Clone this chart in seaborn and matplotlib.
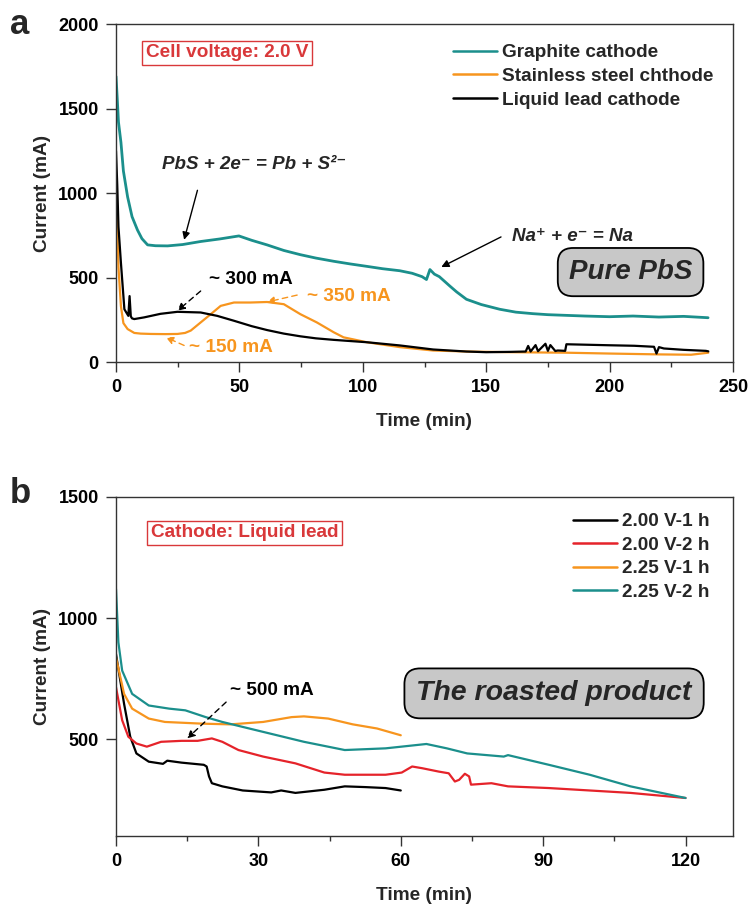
import numpy as np
import pandas as pd
import matplotlib
matplotlib.use("Agg")
import matplotlib.pyplot as plt
import seaborn as sns

# ---------------- data: panel a (Pure PbS, 2.0 V) ----------------
t_graphite = [0, 0.5, 1.0, 2.0, 3.0, 4.7, 6.5, 8.7, 10.5, 12.8, 16, 20.9, 27, 34.3, 42, 49.8, 55, 61.2,
              68, 74.7, 81, 88.2, 95, 101.6, 108, 115, 120, 124, 125.8, 127.2, 129, 131, 135.3, 138,
              142, 148, 155.5, 162, 168.9, 175, 182.4, 190, 200, 209.5, 220, 230, 239.9]
i_graphite = [1690, 1560, 1420, 1300, 1130, 977, 860, 781, 730, 693, 688, 687, 695, 713, 728, 746, 720, 693,
              660, 635, 615, 596, 580, 566, 552, 540, 525, 505, 488, 547, 520, 505, 449, 415,
              371, 340, 312, 295, 286, 280, 276, 272, 268, 272, 266, 270, 262]

t_steel = [0, 0.5, 1.0, 2.0, 3.0, 4.7, 7.4, 10, 14.1, 20, 24.9, 28, 30.3, 34.3, 38.4, 42.4, 47.8, 54.5,
           61.2, 68, 74.7, 81.4, 88.2, 92.2, 101.6, 115, 128.5, 142, 160, 182.4, 200, 220, 233, 240]
i_steel = [1000, 800, 560, 330, 230, 195, 172, 168, 166, 165, 166, 172, 186, 234, 283, 332, 352, 352,
           355, 342, 283, 234, 176, 146, 117, 88, 68, 62, 58, 55, 50, 45, 43, 55]

t_lead = [0, 0.5, 1.0, 2.0, 3.4, 5.0, 5.5, 6.0, 6.5, 7.4, 11.4, 18, 24.9, 34.3, 41, 47.8, 55, 61.2, 68,
          74.7, 81, 88.2, 101.6, 115, 128.5, 142, 150, 160, 166, 167, 168, 170, 171, 174, 175, 176, 178,
          179, 182, 182.5, 200, 210, 218, 219, 220, 222, 230, 239, 240]
i_lead = [1250, 1050, 800, 586, 312, 273, 390, 270, 258, 254, 264, 285, 297, 293, 273, 244, 212, 189, 168,
          152, 140, 131, 117, 98, 74, 62, 58, 60, 62, 95, 62, 100, 64, 108, 66, 100, 65,
          68, 66, 105, 99, 96, 90, 50, 88, 80, 72, 66, 63]

# ---------------- data: panel b (roasted product, liquid lead cathode) ----------------
t_b1 = [0, 1.7, 3.0, 4.3, 6.9, 9.9, 10.8, 13.8, 18.5, 19.1, 19.6, 20.2, 22.4, 26.7, 32.7, 34.8, 37.8,
        43.9, 48.2, 52.5, 56.8, 60]
i_b1 = [851, 646, 510, 441, 407, 398, 411, 403, 394, 387, 346, 318, 305, 288, 280, 288, 278,
        291, 305, 302, 298, 288]

t_b2 = [0, 1.3, 2.6, 4.3, 6.5, 9.5, 13.8, 17.2, 20.2, 22.4, 25.8, 31, 37.8, 43.9, 48.2, 56.8, 60.2,
        62.4, 64.5, 68, 70.1, 71.4, 72.3, 73.5, 74.4, 74.8, 79.1, 82.6, 91.2, 99.8, 108.4, 120]
i_b2 = [714, 578, 510, 482, 469, 489, 493, 493, 503, 489, 455, 428, 400, 362, 353, 353, 362,
        387, 380, 366, 359, 325, 332, 357, 346, 312, 318, 305, 298, 288, 278, 257]

t_b3 = [0, 1.7, 3.4, 6.9, 10.3, 18.1, 24.1, 31, 37, 39.6, 44.7, 49.9, 55, 60]
i_b3 = [837, 687, 626, 585, 571, 564, 561, 571, 591, 594, 585, 561, 544, 516]

t_b4 = [0, 0.5, 1.3, 3.4, 6.9, 11.2, 14.6, 18.9, 22.4, 31, 39.6, 48.2, 56.8, 65.4, 69.7, 74, 81.7,
        82.6, 91.2, 99.8, 108.4, 120]
i_b4 = [1120, 900, 783, 687, 639, 626, 619, 591, 571, 530, 489, 455, 462, 480, 462, 441, 428,
        434, 394, 353, 305, 257]

labels_a = ["Graphite cathode", "Stainless steel chthode", "Liquid lead cathode"]
labels_b = ["2.00 V-1 h", "2.00 V-2 h", "2.25 V-1 h", "2.25 V-2 h"]

TEAL = "#1b8f8c"
ORANGE = "#f7951e"
RED = "#e5232a"
BLACK = "#000000"
BOXRED = "#d9383a"

sns.set_theme(style="ticks")
plt.rcParams["font.family"] = ["Liberation Sans", "DejaVu Sans"]
plt.rcParams["font.weight"] = "bold"
plt.rcParams["axes.labelweight"] = "bold"
plt.rcParams["axes.linewidth"] = 1.0
plt.rcParams["axes.edgecolor"] = "#333333"

fig = plt.figure(figsize=(7.52, 9.09), dpi=100)
ax_a = fig.add_axes([116 / 752, 1 - 362 / 909, 617 / 752, 338 / 909])
ax_b = fig.add_axes([116 / 752, 1 - 836 / 909, 617 / 752, 339 / 909])

FS = 13       # tick labels
LFS = 13.7    # legend / annotations
AFS = 13.7    # axis labels

def style_axes(ax):
    ax.tick_params(axis="both", which="major", direction="out", length=7, width=1.0, pad=5.5,
                   labelsize=FS, colors="#333333", labelcolor="black")
    ax.tick_params(axis="x", which="minor", direction="out", length=3.8, width=1.0, colors="#333333")
    for lab in ax.get_xticklabels() + ax.get_yticklabels():
        lab.set_fontweight("bold")
    for s in ax.spines.values():
        s.set_visible(True)

def dashed_arrow(ax, xy, xytext, color):
    ax.annotate("", xy=xy, xytext=xytext,
                arrowprops=dict(arrowstyle="-|>", color=color, lw=1.0, ls=(0, (4, 3)),
                                mutation_scale=11, shrinkA=0, shrinkB=0))

def solid_arrow(ax, xy, xytext):
    ax.annotate("", xy=xy, xytext=xytext,
                arrowprops=dict(arrowstyle="-|>", color="black", lw=1.0,
                                mutation_scale=11, shrinkA=0, shrinkB=0))

# ---------------- panel a ----------------
for t, i, c, lab, lw in [(t_graphite, i_graphite, TEAL, labels_a[0], 2.0),
                         (t_steel, i_steel, ORANGE, labels_a[1], 1.6),
                         (t_lead, i_lead, BLACK, labels_a[2], 1.6)]:
    sns.lineplot(x=t, y=i, color=c, label=lab, ax=ax_a, estimator=None, sort=False, linewidth=lw)

ax_a.set_xlim(0, 250)
ax_a.set_ylim(0, 2000)
ax_a.set_xticks([0, 50, 100, 150, 200, 250])
ax_a.set_xticks([25, 75, 125, 175, 225], minor=True)
ax_a.set_yticks([0, 500, 1000, 1500, 2000])
ax_a.set_xlabel("Time (min)", fontsize=AFS, fontweight="bold", labelpad=12)
ax_a.set_ylabel("Current (mA)", fontsize=AFS, fontweight="bold", labelpad=5)
style_axes(ax_a)

leg = ax_a.legend(loc="upper left", bbox_to_anchor=(0.546, 0.941), frameon=False, fontsize=LFS,
                  handlelength=2.3, handletextpad=0.26, labelspacing=0.34, borderpad=0,
                  borderaxespad=0)
for txt in leg.get_texts():
    txt.set_fontweight("bold")
for h in leg.get_lines():
    h.set_linewidth(1.8)

ax_a.text(0.180, 0.915, "Cell voltage: 2.0 V", transform=ax_a.transAxes, color=BOXRED,
          fontsize=LFS, fontweight="bold", ha="center", va="center",
          bbox=dict(boxstyle="square,pad=0.18", fc="white", ec=BOXRED, lw=1.0))

ax_a.text(208.5, 532, "Pure PbS", fontsize=20, fontweight="bold", style="italic",
          ha="center", va="center",
          bbox=dict(boxstyle="round,pad=0.4,rounding_size=0.55", fc="#c8c8c8", ec="black", lw=1.3))

ax_a.text(56, 1168, "PbS + 2e\u207b = Pb + S\u00b2\u207b", fontsize=13.5, fontweight="bold",
          style="italic", ha="center", va="center")
solid_arrow(ax_a, (27.6, 723), (33, 1016))

ax_a.text(185, 742, "Na\u207a + e\u207b = Na", fontsize=13.5, fontweight="bold",
          style="italic", ha="center", va="center")
solid_arrow(ax_a, (131.8, 562), (156, 740))

ax_a.text(37.5, 488, "~ 300 mA", fontsize=LFS, fontweight="bold", color="black", ha="left", va="center")
dashed_arrow(ax_a, (24.9, 303), (34.3, 420), "black")

ax_a.text(77.5, 388, "~ 350 mA", fontsize=LFS, fontweight="bold", color=ORANGE, ha="left", va="center")
dashed_arrow(ax_a, (61.2, 355), (73.4, 396), ORANGE)

ax_a.text(29.5, 85, "~ 150 mA", fontsize=LFS, fontweight="bold", color=ORANGE, ha="left", va="center")
dashed_arrow(ax_a, (20.2, 146), (27.6, 98), ORANGE)

# ---------------- panel b ----------------
for t, i, c, lab in [(t_b1, i_b1, BLACK, labels_b[0]),
                     (t_b2, i_b2, RED, labels_b[1]),
                     (t_b3, i_b3, ORANGE, labels_b[2]),
                     (t_b4, i_b4, TEAL, labels_b[3])]:
    sns.lineplot(x=t, y=i, color=c, label=lab, ax=ax_b, estimator=None, sort=False, linewidth=1.6)

ax_b.set_xlim(0, 130)
ax_b.set_ylim(100, 1500)
ax_b.set_xticks([0, 30, 60, 90, 120])
ax_b.set_xticks([15, 45, 75, 105], minor=True)
ax_b.set_yticks([500, 1000, 1500])
ax_b.set_xlabel("Time (min)", fontsize=AFS, fontweight="bold", labelpad=12)
ax_b.set_ylabel("Current (mA)", fontsize=AFS, fontweight="bold", labelpad=5)
style_axes(ax_b)

leg = ax_b.legend(loc="upper left", bbox_to_anchor=(0.741, 0.953), frameon=False, fontsize=LFS,
                  handlelength=2.3, handletextpad=0.26, labelspacing=0.33, borderpad=0,
                  borderaxespad=0)
for txt in leg.get_texts():
    txt.set_fontweight("bold")
for h in leg.get_lines():
    h.set_linewidth(1.8)

ax_b.text(0.208, 0.894, "Cathode: Liquid lead", transform=ax_b.transAxes, color=BOXRED,
          fontsize=LFS, fontweight="bold", ha="center", va="center",
          bbox=dict(boxstyle="square,pad=0.18", fc="white", ec=BOXRED, lw=1.0))

ax_b.text(92.3, 689, "The roasted product", fontsize=20.5, fontweight="bold", style="italic",
          ha="center", va="center",
          bbox=dict(boxstyle="round,pad=0.42,rounding_size=0.55", fc="#c8c8c8", ec="black", lw=1.3))

ax_b.text(24, 700, "~ 500 mA", fontsize=LFS, fontweight="bold", color="black", ha="left", va="center")
dashed_arrow(ax_b, (15, 503), (23.2, 653), "black")

fig.text(20 / 752, 1 - 24 / 909, "a", fontsize=25, fontweight="bold", ha="center", va="center")
fig.text(20 / 752, 1 - 494 / 909, "b", fontsize=25, fontweight="bold", ha="center", va="center")

fig.savefig("out.png", dpi=100)
